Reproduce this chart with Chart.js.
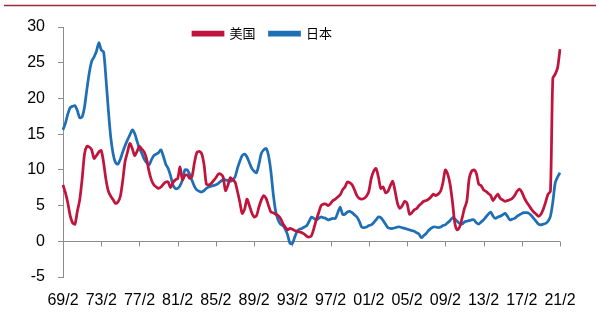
<!DOCTYPE html>
<html lang="zh">
<head>
<meta charset="UTF-8">
<title>美国与日本</title>
<script src="https://cdn.jsdelivr.net/npm/chart.js"></script>
<style>
  body { margin: 0; background: #fff; }
  canvas { display: block; }
</style>
</head>
<body>
<canvas id="chart" width="600" height="318"></canvas>
<script>
// quarterly points, 69/2 .. 21/2
const startYear = 1969;
const endYear = 2021;
const months = [2, 5, 8, 11];

const tickLabels = ['69/2', '73/2', '77/2', '81/2', '85/2', '89/2', '93/2',
  '97/2', '01/2', '05/2', '09/2', '13/2', '17/2', '21/2'];

const usValues = [
  7.9, 6.8, 5.4, 3.6,   2.6, 2.4, 4.2, 5.8,   8.7, 12.2, 13.3, 13.2,  12.8, 11.6, 12.0, 12.5,
  12.7, 11.0, 8.6, 7.0,  6.3, 5.8, 5.3, 5.5,   6.3, 8.5, 11.2, 12.5,  13.7, 13.0, 12.0, 12.6,
  13.3, 12.9, 12.5, 11.5, 9.8, 8.6, 7.9, 7.6,  7.4, 7.6, 8.0, 8.3,    8.3, 7.5, 8.2, 8.6,
  8.8, 10.4, 8.6, 9.2,  9.3, 8.8, 9.1, 11.0,   12.4, 12.6, 12.3, 10.8, 8.0, 7.9, 8.1, 8.5,
  8.9, 9.4, 9.4, 9.0,   7.1, 7.8, 8.9, 8.6,    8.3, 7.0, 5.5, 3.9,    4.5, 5.9, 5.0, 4.0,
  3.4, 3.6, 4.8, 5.8,   6.4, 6.0, 5.0, 4.1,    4.0, 3.8, 3.6, 3.2,    2.5, 2.0, 1.6, 1.8,
  1.7, 1.5, 1.4, 1.3,   1.2, 1.0, 0.7, 0.6,    0.8, 1.8, 3.0, 4.0,    5.0, 5.2, 5.2, 5.0,
  5.3, 5.7, 5.9, 6.2,   6.5, 7.2, 7.6, 8.3,    8.2, 7.9, 7.2, 6.4,    6.0, 5.9, 6.0, 6.3,
  7.0, 8.8, 9.8, 10.2,  9.0, 7.4, 7.6, 6.8,    7.0, 7.8, 8.4, 7.0,    5.3, 4.6, 5.0, 5.6,
  5.3, 3.8, 4.0, 4.4,   4.6, 5.0, 5.3, 5.6,    5.7, 5.9, 6.2, 6.6,    6.4, 6.6, 7.0, 8.2,
  10.0, 9.4, 8.0, 5.5,  2.5, 1.6, 2.0, 3.2,    4.6, 5.6, 8.8, 9.8,    10.0, 9.5, 8.0, 7.8,
  7.2, 7.0, 6.7, 6.4,   5.7, 6.2, 6.6, 6.0,    5.8, 5.6, 5.7, 5.8,    6.0, 6.4, 7.0, 7.3,
  6.9, 6.1, 5.5, 5.0,   4.5, 4.1, 3.8, 3.5,    3.8, 4.5, 5.5, 6.6,    7.0, 22.8, 23.4, 24.3,
  26.9
];

const japanValues = [
  15.6, 16.5, 17.8, 18.7, 18.9, 19.0, 18.3, 17.3, 17.4, 18.8, 21.3, 23.6, 25.2, 25.8, 26.6, 27.8,
  26.8, 26.5, 22.7, 18.3, 14.5, 12.2, 11.0, 10.8, 11.5, 12.5, 13.4, 14.2, 14.9, 15.6, 15.1, 14.0,
  13.0, 12.3, 11.5, 11.0, 10.7, 11.4, 12.0, 12.2, 12.4, 12.8, 11.9, 10.8, 10.2, 9.2, 7.9, 7.4,
  7.4, 7.8, 8.6, 10.0,   10.0, 9.4, 8.5, 7.7,    7.2, 7.0, 6.9, 7.1,    7.4, 7.6, 7.7, 7.8,
  7.9, 8.1, 8.4, 8.6,    8.6, 8.5, 8.4, 8.6,     9.0, 10.2, 11.2, 12.0, 12.2, 11.8, 11.0, 10.2,
  9.8, 9.6, 10.8, 12.3,  12.8, 13.0, 12.0, 9.8,  6.6, 4.2, 3.0, 2.4,    2.2, 1.7, 0.9, -0.3,
  -0.3, 0.6, 1.4, 1.7,   1.8, 2.0, 2.2, 2.8,     3.4, 3.2, 3.0, 3.2,    3.4, 3.3, 3.2, 3.0,
  3.1, 3.2, 3.2, 4.0,    4.8, 3.8, 3.8, 4.1,     4.2, 4.0, 3.7, 3.4,    2.8, 2.0, 1.9, 2.0,
  2.2, 2.3, 2.6, 3.0,    3.4, 3.3, 2.9, 2.4,     1.9, 1.8, 1.8, 1.9,    2.0, 2.0, 1.9, 1.8,
  1.7, 1.6, 1.5, 1.4,    1.2, 1.0, 0.5, 0.8,     1.1, 1.5, 1.8, 2.0,    2.0, 1.9, 2.0, 2.2,
  2.3, 2.6, 2.9, 3.3,    3.1, 2.8, 2.5, 2.4,     2.7, 2.8, 2.9, 3.0,    3.0, 2.6, 2.4, 2.7,
  3.0, 3.4, 3.8, 4.1,    3.5, 3.2, 3.4, 3.5,     3.7, 3.9, 3.5, 3.0,    3.1, 3.2, 3.5, 3.7,
  3.9, 4.0, 4.0, 3.9,    3.6, 3.2, 2.8, 2.4,     2.3, 2.4, 2.5, 2.8,    3.5, 5.5, 8.2, 9.0,
  9.6
];

const categories = [];
for (let y = startYear; y <= endYear; y++) {
  for (const m of months) {
    if (y === endYear && m > 2) break;
    categories.push(String(y).slice(2) + '/' + m);
  }
}

const axisGray = '#8c8c8c';
const usColor = '#c0143c';
const jpColor = '#1f6fb6';

// zero line with tick marks, like the original axis crossing at 0
const zeroAxis = {
  id: 'zeroAxis',
  beforeDatasetsDraw(chart) {
    const { ctx, chartArea, scales: { x, y } } = chart;
    const y0 = Math.round(y.getPixelForValue(0)) + 0.5;
    ctx.save();
    ctx.strokeStyle = axisGray;
    ctx.lineWidth = 1;
    ctx.beginPath();
    ctx.moveTo(chartArea.left, y0);
    ctx.lineTo(chartArea.right, y0);
    categories.forEach((c, i) => {
      if (tickLabels.includes(c)) {
        const px = Math.round(x.getPixelForValue(i)) + 0.5;
        ctx.moveTo(px, y0);
        ctx.lineTo(px, y0 + 5);
      }
    });
    ctx.stroke();
    ctx.restore();
  }
};

// red rule under the (cropped) title, and legend placement over the plot
const frame = {
  id: 'frame',
  afterLayout(chart) {
    const lg = chart.legend;
    const dx = 179 - lg.left, dy = 13 - lg.top;
    lg.left += dx; lg.right += dx;
    lg.top += dy; lg.bottom += dy;
  },
  beforeDraw(chart) {
    const ctx = chart.ctx;
    ctx.save();
    ctx.strokeStyle = '#9e2b3b';
    ctx.lineWidth = 1.5;
    ctx.beginPath();
    ctx.moveTo(4, 5.5);
    ctx.lineTo(596, 5.5);
    ctx.stroke();
    ctx.restore();
  }
};

Chart.defaults.font.family = '"Liberation Sans", Arial, sans-serif';
Chart.defaults.color = '#000';

new Chart(document.getElementById('chart'), {
  type: 'line',
  data: {
    labels: categories,
    datasets: [
      { label: '美国', data: usValues, borderColor: usColor, backgroundColor: usColor,
        borderWidth: 2.75, pointRadius: 0, tension: 0.25 },
      { label: '日本', data: japanValues, borderColor: jpColor, backgroundColor: jpColor,
        borderWidth: 2.75, pointRadius: 0, tension: 0.25 }
    ]
  },
  options: {
    responsive: false,
    animation: false,
    layout: { padding: { top: 0, right: 40, left: 0, bottom: 0 } },
    plugins: {
      tooltip: { enabled: false },
      legend: {
        position: 'top',
        align: 'start',
        maxHeight: 27,
        labels: {
          boxWidth: 30,
          boxHeight: 3,
          padding: 14,
          font: { family: '"Noto Sans CJK SC"', size: 13 },
          color: '#000'
        }
      }
    },
    scales: {
      x: {
        type: 'category',
        offset: false,
        grid: { display: false },
        border: { display: false },
        ticks: {
          autoSkip: false,
          maxRotation: 0,
          minRotation: 0,
          padding: 6,
          font: { size: 16 },
          callback: function (v) {
            const l = this.getLabelForValue(v);
            return tickLabels.includes(l) ? l : null;
          }
        },
        afterFit: s => { s.height = 41; }
      },
      y: {
        min: -5,
        max: 30,
        ticks: { stepSize: 5, padding: 13, font: { size: 16 } },
        grid: { drawOnChartArea: false, drawTicks: true, tickLength: 5, color: axisGray },
        border: { display: true, color: axisGray },
        afterFit: s => { s.width = 63; }
      }
    }
  },
  plugins: [zeroAxis, frame]
});
</script>
</body>
</html>
